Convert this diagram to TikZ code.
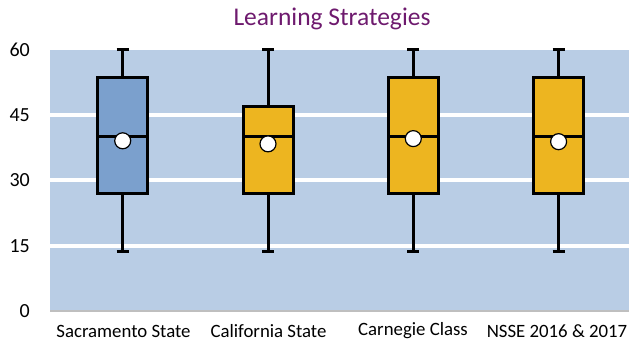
\documentclass[tikz,border=0pt]{standalone}
\usepackage{fontspec}
\setmainfont{Carlito}
\definecolor{plotbg}{HTML}{B9CDE5}
\definecolor{sacblue}{HTML}{7BA0CD}
\definecolor{gold}{HTML}{EDB520}
\definecolor{titlepurple}{HTML}{6E1A6E}
\definecolor{axisgrey}{HTML}{BFBFBF}
\tikzset{
  boxline/.style={line width=3pt, draw=black},
  whisker/.style={line width=3pt, draw=black},
  meandot/.style={circle, fill=white, draw=black, line width=1.2pt, minimum size=16pt, inner sep=0pt},
  ticklabel/.style={anchor=east, font=\fontsize{20}{22}\selectfont, inner sep=0pt},
  catlabel/.style={anchor=center, font=\fontsize{18.8}{22}\selectfont, inner sep=0pt},
  titlelabel/.style={font=\fontsize{25.5}{28}\selectfont, text=titlepurple, inner sep=0pt},
}
\newcommand{\boxplotitem}[8]{%
  % #1 center x, #2 lo, #3 q1, #4 med, #5 q3, #6 hi, #7 mean, #8 fill
  \draw[whisker] (#1,#2) -- (#1,#6);
  \draw[whisker] (#1-6,#2) -- (#1+6,#2);
  \draw[whisker] (#1-6,#6) -- (#1+6,#6);
  \filldraw[boxline, fill=#8] (#1-25,#3) rectangle (#1+25,#5);
  \draw[boxline] (#1-25,#4) -- (#1+25,#4);
}
\begin{document}
\begin{tikzpicture}[x=1pt, y=4.353pt]
\useasboundingbox (0,-7.351) rectangle (629,71.445);
% plot area
\fill[plotbg] (50,0) rectangle (629,60);
\foreach \v in {15,30,45} { \draw[white, line width=4pt] (50,\v) -- (629,\v); }
\draw[axisgrey, line width=2.5pt] (50,0) -- (629,0);
% tick labels
\foreach \v in {0,15,30,45,60} { \node[ticklabel] (t\v) at (30,\v) {\v}; }
% boxes
\boxplotitem{122.7}{13.6}{26.9}{40}{53.6}{60}{39.1}{sacblue}
\boxplotitem{268}{13.6}{26.9}{40}{46.9}{60}{38.4}{gold}
\boxplotitem{413.3}{13.6}{26.9}{40}{53.6}{60}{39.6}{gold}
\boxplotitem{558.6}{13.6}{26.9}{40}{53.6}{60}{38.9}{gold}
\node[meandot] (m1) at (122.7,39.1) {};
\node[meandot] (m2) at (268,38.4) {};
\node[meandot] (m3) at (413.3,39.6) {};
\node[meandot] (m4) at (558.6,38.9) {};
% category labels
\node[catlabel] (c1) at (123.5,-4.6) {Sacramento State};
\node[catlabel] (c2) at (268.5,-4.6) {California State};
\node[catlabel] (c3) at (413,-4.6) {Carnegie Class};
\node[catlabel] (c4) at (557,-4.6) {NSSE 2016 \& 2017};
% title
\node[titlelabel] (title) at (332,67.1) {Learning Strategies};
\end{tikzpicture}
\end{document}
